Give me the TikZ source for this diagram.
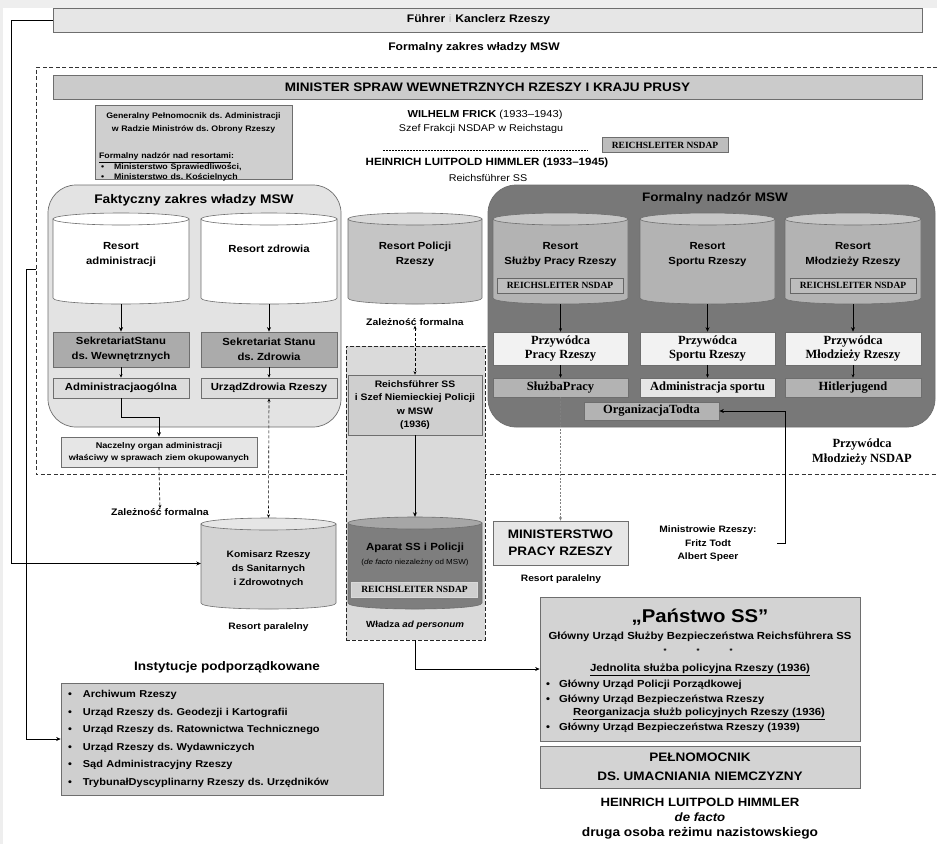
\documentclass[tikz,border=0pt]{standalone}
\usepackage{fontspec}
\setmainfont{Liberation Sans}[FakeStretch=1.1]
\newfontfamily\timesf{Liberation Serif}
\usetikzlibrary{arrows.meta}
\frenchspacing

\newcommand{\fs}[2]{\fontsize{#1}{#2}\selectfont}

\definecolor{bgframe}{HTML}{EEEEEE}
\definecolor{lineg}{HTML}{6E6E6E}
\definecolor{fhrfill}{HTML}{E6E6E6}
\definecolor{mingray}{HTML}{CBCBCB}
\definecolor{genfill}{HTML}{CFCFCF}
\definecolor{faktfill}{HTML}{E3E3E3}
\definecolor{nadzfill}{HTML}{787878}
\definecolor{sekfill}{HTML}{ABABAB}
\definecolor{lightbox}{HTML}{DCDCDC}
\definecolor{polbody}{HTML}{C5C5C5}
\definecolor{poltop}{HTML}{D9D9D9}
\definecolor{rbody}{HTML}{B3B3B3}
\definecolor{rtop}{HTML}{C6C6C6}
\definecolor{przfill}{HTML}{F2F2F2}
\definecolor{ssfill}{HTML}{DADADA}
\definecolor{apbody}{HTML}{7E7E7E}
\definecolor{aptop}{HTML}{A6A6A6}
\definecolor{kombody}{HTML}{D3D3D3}
\definecolor{komtop}{HTML}{E6E6E6}
\definecolor{pansfill}{HTML}{D3D3D3}
\definecolor{rlfill}{HTML}{BDBDBD}

\tikzset{
  lbl/.style={inner sep=0pt, align=center, font=\bfseries\fs{9.5}{12}},
  box/.style={draw=lineg, line width=0.7pt, inner sep=0pt, align=center},
  rlbox/.style={box, fill=rlfill, minimum width=126pt, minimum height=15pt,
    font=\timesf\bfseries\fs{9.5}{10}},
  przbox/.style={box, font=\timesf\bfseries\fs{12.5}{14}, minimum width=135pt},
  cyltext/.style={lbl, font=\bfseries\fs{10.3}{15}},
  conn/.style={-{Stealth[length=4.5pt,width=4pt]}, line width=1pt},
  thinconn/.style={-{Stealth[length=3.5pt,width=3pt]}, line width=0.5pt},
  dep/.style={{Stealth[length=3.5pt,width=3pt]}-{Stealth[length=3.5pt,width=3pt]},
    line width=0.6pt, dash pattern=on 3pt off 2pt},
  mswline/.style={line width=0.7pt, draw=black!80, dash pattern=on 4pt off 2.5pt},
  cylline/.style={draw=lineg, line width=0.6pt},
}

% name, centre x, top ellipse y, half width, base y, body fill, top fill
\newcommand{\cylbox}[7]{%
  \filldraw[cylline, fill=#6] (#2-#4,#3) -- (#2-#4,#5)
    .. controls (#2-#4,#5+8) and (#2+#4,#5+8) .. (#2+#4,#5) -- (#2+#4,#3) -- cycle;
  \filldraw[cylline, fill=#7] (#2,#3) ellipse [x radius=#4pt, y radius=6pt];
  \node[inner sep=0pt, minimum width={2*#4pt}, minimum height={(#5-#3+12)*1pt}]
    (#1) at (#2,{(#3+#5)/2}) {};%
}

\begin{document}
\begin{tikzpicture}[x=1pt,y=-1pt]
  \fill[bgframe] (0,0) rectangle (937,844);
  \fill[white] (3,8) rectangle (937,844);
  \useasboundingbox (0,0) rectangle (937,844);

  % top of the chart
  \node[box, fill=fhrfill, minimum width=869pt, minimum height=24pt,
    font=\bfseries\fs{11}{14}] (fuhrer) at (487.5,20)
    {Führer \textcolor{gray!45}{i} Kanclerz Rzeszy\hspace*{18pt}};
  \node[lbl, font=\bfseries\fs{11}{13}] (zakres) at (474,48) {Formalny zakres władzy MSW};
  \draw[mswline] (937,67) -- (36,67) -- (36,474) -- (937,474);
  \coordinate (mswleft) at (36,269);
  \node[box, fill=mingray, minimum width=869pt, minimum height=24pt,
    font=\bfseries\fs{12.3}{14}] (minister) at (487.5,87)
    {MINISTER SPRAW WEWNETRZNYCH RZESZY I KRAJU PRUSY};

  \node[box, fill=genfill, minimum width=197pt, minimum height=74pt] (genpel) at (193.5,142.5) {};
  \node[anchor=north, inner sep=0pt, text width=189pt, align=left,
    font=\bfseries\fs{8}{10.5}] (genpelt) at (193.5,112.5)
    {{\centering Generalny Pełnomocnik ds. Administracji\\[2.2pt]
      w Radzie Ministrów ds. Obrony Rzeszy\par}\vspace{17pt}
     \underline{Formalny nadzór nad resortami}:\\
     \hspace*{2pt}\textbullet\hspace{10pt}Ministerstwo Sprawiedliwości,\\
     \hspace*{2pt}\textbullet\hspace{10pt}Ministerstwo ds. Kościelnych};

  \node[lbl, font=\fs{10.1}{12}] (frick) at (485,115) {\textbf{WILHELM FRICK} (1933–1943)};
  \node[lbl, font=\fs{9.8}{12}] (frakcja) at (481,129) {Szef Frakcji NSDAP w Reichstagu};
  \draw[line width=0.5pt, dash pattern=on 2pt off 1pt] (383,150) -- (588,150);
  \node[lbl, font=\bfseries\fs{10.5}{12}] (himmler) at (487,163)
    {HEINRICH LUITPOLD HIMMLER (1933–1945)};
  \node[lbl, font=\fs{9.8}{12}] (rfss) at (488,178) {Reichsführer SS};
  \node[rlbox] (rlfrick) at (665,145) {REICHSLEITER NSDAP};

  % faktyczny zakres
  \node[box, rounded corners=28pt, fill=faktfill, minimum width=293pt,
    minimum height=242pt] (fakt) at (194.5,306) {};
  \node[lbl, font=\bfseries\fs{12.5}{15}] (faktt) at (194,200) {Faktyczny zakres władzy MSW};
  \cylbox{radm}{121}{219}{68}{298}{white}{white}
  \cylbox{rzdr}{269}{219}{68}{298}{white}{white}
  \node[cyltext] (radmt) at (121,254.5) {Resort\\administracji};
  \node[cyltext] (rzdrt) at (269,249) {Resort zdrowia};
  \node[box, fill=sekfill, minimum width=136pt, minimum height=35pt,
    font=\bfseries\fs{10.3}{15}] (sekadm) at (121,349.5) {SekretariatStanu\\ds. Wewnętrznych};
  \node[box, fill=sekfill, minimum width=136pt, minimum height=35pt,
    font=\bfseries\fs{10.3}{15}] (sekzdr) at (269,349.5) {Sekretariat Stanu\\ds. Zdrowia};
  \node[box, fill=lightbox, minimum width=136pt, minimum height=20pt,
    font=\bfseries\fs{10.3}{12}] (admog) at (121,388) {Administracjaogólna};
  \node[box, fill=lightbox, minimum width=136pt, minimum height=20pt,
    font=\bfseries\fs{10.3}{12}] (urzzdr) at (269,388) {UrządZdrowia Rzeszy};
  \node[box, fill=fhrfill, minimum width=196pt, minimum height=30pt,
    font=\bfseries\fs{8.3}{12}] (nacz) at (159,452)
    {Naczelny organ administracji\\właściwy w sprawach ziem okupowanych};

  % formalny nadzor
  \node[box, rounded corners=28pt, fill=nadzfill, minimum width=447pt,
    minimum height=242pt] (nadz) at (711.5,306) {};
  \node[lbl, font=\bfseries\fs{12.3}{15}] (nadzt) at (715,198) {Formalny nadzór MSW};
  \cylbox{rsl}{560.5}{219}{67.5}{298}{rbody}{rtop}
  \cylbox{rsp}{707.5}{219}{67.5}{298}{rbody}{rtop}
  \cylbox{rml}{853}{219}{68}{298}{rbody}{rtop}
  \node[cyltext] (rslt) at (560.5,254.5) {Resort\\Służby Pracy Rzeszy};
  \node[cyltext] (rspt) at (707.5,254.5) {Resort\\Sportu Rzeszy};
  \node[cyltext] (rmlt) at (853,254.5) {Resort\\Młodzieży Rzeszy};
  \node[rlbox, draw=black!60] (rlsl) at (560,285.5) {REICHSLEITER NSDAP};
  \node[rlbox, draw=black!60] (rlml) at (853,285.5) {REICHSLEITER NSDAP};
  \node[przbox, fill=przfill, minimum height=33pt] (prz1) at (560.5,348.5) {Przywódca\\Pracy Rzeszy};
  \node[przbox, fill=przfill, minimum height=33pt] (prz2) at (707.5,348.5) {Przywódca\\Sportu Rzeszy};
  \node[przbox, fill=przfill, minimum height=33pt, minimum width=136pt] (prz3) at (853,348.5)
    {Przywódca\\Młodzieży Rzeszy};
  \node[przbox, fill=rbody, minimum height=19pt] (sluzba) at (560.5,387.5) {SłużbaPracy};
  \node[przbox, fill=fhrfill, minimum height=19pt] (admsp) at (707.5,387.5) {Administracja sportu};
  \node[przbox, fill=rbody, minimum height=19pt, minimum width=136pt] (hj) at (853,387.5) {Hitlerjugend};
  \node[przbox, fill=rbody, minimum height=18pt] (todt) at (651.5,411) {OrganizacjaTodta};
  \node[lbl, font=\timesf\bfseries\fs{12.5}{14.5}] (przml) at (862,452) {Przywódca\\Młodzieży NSDAP};

  % policja
  \cylbox{rpol}{415}{219}{67}{298}{polbody}{poltop}
  \node[cyltext] (rpolt) at (415,254.5) {Resort Policji\\Rzeszy};
  \node[lbl] (zalf2) at (415,322) {Zależność formalna};
  \node[box, fill=ssfill, draw=black!85, dash pattern=on 4pt off 2pt, line width=0.8pt,
    minimum width=139pt, minimum height=294pt] (ssreg) at (415.5,493) {};
  \node[box, fill=genfill, minimum width=134pt, minimum height=60pt,
    font=\bfseries\fs{9.4}{13.5}] (reich) at (415,405)
    {Reichsführer SS\\i Szef Niemieckiej Policji\\w MSW\\(1936)};
  \cylbox{apar}{415}{523}{67}{603}{apbody}{aptop}
  \node[lbl, font=\bfseries\fs{10.4}{12}] (apart) at (415,548) {Aparat SS i Policji};
  \node[lbl, font=\fs{7.3}{8}] (apdf) at (415,563) {(\textit{de facto} niezależny od MSW)};
  \node[rlbox, fill=genfill, draw=white!85!black] (rlap) at (414.5,589.5) {REICHSLEITER NSDAP};
  \node[lbl, font=\bfseries\fs{8.9}{12}] (adpers) at (415,625) {Władza \textit{ad personum}};

  % ponizej
  \node[lbl] (zalf1) at (160,512) {Zależność formalna};
  \cylbox{kom}{268.5}{524}{67.5}{603}{kombody}{komtop}
  \node[lbl, font=\bfseries\fs{9.3}{14}] (komt) at (268.5,569)
    {Komisarz Rzeszy\\ds Sanitarnych\\i Zdrowotnych};
  \node[lbl, font=\bfseries\fs{9.3}{12}] (respar1) at (268.5,627) {Resort paralelny};
  \node[box, fill=fhrfill, minimum width=135pt, minimum height=44pt,
    font=\bfseries\fs{12.3}{17}] (minpr) at (560.5,543) {MINISTERSTWO\\PRACY RZESZY};
  \node[lbl, font=\bfseries\fs{9.3}{12}] (respar2) at (561,579) {Resort paralelny};
  \node[lbl, font=\bfseries\fs{9.3}{13.5}] (ministr) at (708,544)
    {Ministrowie Rzeszy:\\Fritz Todt\\Albert Speer};
  \coordinate (ministrtip) at (777,543);

  % panstwo SS
  \node[box, fill=pansfill, minimum width=320pt, minimum height=144pt] (panstwo) at (700,669) {};
  \node[lbl, font=\bfseries\fs{18.5}{22}] (pans1) at (700,617) {„Państwo SS”};
  \node[lbl, font=\bfseries\fs{10.3}{12}] (pans2) at (700,637)
    {Główny Urząd Służby Bezpieczeństwa Reichsführera SS};
  \node[lbl, font=\bfseries\fs{7}{8}] (pans3) at (698,651) {*\hspace{30pt}*\hspace{30pt}*};
  \node[lbl, font=\bfseries\fs{10.4}{12}] (pans4) at (700,670)
    {\underline{Jednolita służba policyjna Rzeszy (1936)}};
  \node[lbl, font=\bfseries\fs{10.2}{12}, anchor=west] (pans5) at (546,685)
    {\textbullet\hspace{9pt}Główny Urząd Policji Porządkowej};
  \node[lbl, font=\bfseries\fs{10.2}{12}, anchor=west] (pans6) at (546,700)
    {\textbullet\hspace{9pt}Główny Urząd Bezpieczeństwa Rzeszy};
  \node[lbl, font=\bfseries\fs{10.3}{12}] (pans7) at (699,714)
    {\underline{Reorganizacja służb policyjnych Rzeszy (1936)}};
  \node[lbl, font=\bfseries\fs{10.2}{12}, anchor=west] (pans8) at (546,728)
    {\textbullet\hspace{9pt}Główny Urząd Bezpieczeństwa Rzeszy (1939)};
  \node[box, fill=pansfill, minimum width=320pt, minimum height=42pt,
    font=\bfseries\fs{12.3}{19}] (pelno) at (700,767) {PEŁNOMOCNIK\\DS. UMACNIANIA NIEMCZYZNY};
  \node[lbl, font=\bfseries\fs{12}{13}] (him2) at (700,802) {HEINRICH LUITPOLD HIMMLER};
  \node[lbl, font=\bfseries\itshape\fs{12}{13}] (defacto) at (700,817) {de facto};
  \node[lbl, font=\bfseries\fs{12.5}{13}] (druga) at (700,833) {druga osoba reżimu nazistowskiego};

  % instytucje
  \node[lbl, font=\bfseries\fs{12.3}{14}] (instt) at (227,667) {Instytucje podporządkowane};
  \node[box, fill=genfill, minimum width=322pt, minimum height=112pt, text width=308pt,
    inner xsep=7pt, align=left, font=\bfseries\fs{10}{17.6}] (inst) at (222,739)
    {\textbullet\hspace{11pt}Archiwum Rzeszy\\
     \textbullet\hspace{11pt}Urząd Rzeszy ds. Geodezji i Kartografii\\
     \textbullet\hspace{11pt}Urząd Rzeszy ds. Ratownictwa Technicznego\\
     \textbullet\hspace{11pt}Urząd Rzeszy ds. Wydawniczych\\
     \textbullet\hspace{11pt}Sąd Administracyjny Rzeszy\\
     \textbullet\hspace{11pt}TrybunałDyscyplinarny Rzeszy ds. Urzędników};

  % connectors
  \draw[conn] (fuhrer.west) -- ++(-41,0) |- (kom.west);
  \draw[conn] (mswleft) -- ++(-10,0) |- (inst.west);
  \draw[conn] (radm.south) -- (sekadm.north);
  \draw[conn] (rzdr.south) -- (sekzdr.north);
  \draw[thinconn, line width=0.8pt] (sekadm.south) -- (admog.north);
  \draw[thinconn, line width=0.8pt] (sekzdr.south) -- (urzzdr.north);
  \draw[conn] (admog.south) -- ++(0,19) -| (nacz.north);
  \draw[dep, -{Stealth[length=3.5pt,width=3pt]}] (nacz.south) -- (zalf1.north);
  \draw[dep] (urzzdr.south) -- (kom.north);
  \draw[dep] (zalf2.south) -- (reich.north);
  \draw[conn, line width=0.8pt] (reich.south) -- (apar.north);
  \draw[conn] (ssreg.south) |- (panstwo.west);
  \draw[thinconn] (rsl.south) -- (prz1.north);
  \draw[conn] (rsp.south) -- (prz2.north);
  \draw[conn] (rml.south) -- (prz3.north);
  \draw[thinconn] (prz1.south) -- (sluzba.north);
  \draw[thinconn, line width=0.8pt] (prz2.south) -- (admsp.north);
  \draw[thinconn, line width=0.8pt] (prz3.south) -- (hj.north);
  \draw[thinconn, draw=gray, dash pattern=on 2pt off 1.5pt, line width=0.4pt]
    (sluzba.south) -- (minpr.north);
  \draw[conn] (ministrtip) -- ++(8,0) |- (todt.east);
\end{tikzpicture}
\end{document}
